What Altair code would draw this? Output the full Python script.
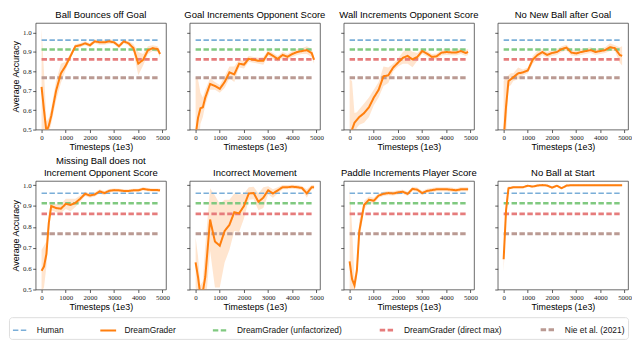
import altair as alt
import pandas as pd

# ---------------- data ----------------
X = [0, 100, 200, 300, 400, 600, 800, 1000, 1200, 1400, 1600, 1800, 2000, 2200,
     2400, 2600, 2800, 3000, 3200, 3400, 3600, 3800, 4000, 4200, 4400, 4600, 4800, 4900]

PANELS = [
    "Ball Bounces off Goal",
    "Goal Increments Opponent Score",
    "Wall Increments Opponent Score",
    "No New Ball after Goal",
    "Missing Ball does not Increment Opponent Score",
    "Incorrect Movement",
    "Paddle Increments Player Score",
    "No Ball at Start",
]
TITLES = [
    "Ball Bounces off Goal",
    "Goal Increments Opponent Score",
    "Wall Increments Opponent Score",
    "No New Ball after Goal",
    ["Missing Ball does not", "Increment Opponent Score"],
    "Incorrect Movement",
    "Paddle Increments Player Score",
    "No Ball at Start",
]

ACC_1 = [0.72, 0.60, 0.49, 0.52, 0.57, 0.70, 0.79, 0.83, 0.88, 0.93, 0.935, 0.945, 0.935, 0.955,
         0.95, 0.95, 0.955, 0.95, 0.93, 0.955, 0.945, 0.92, 0.84, 0.86, 0.91, 0.92, 0.915, 0.89]
SPR_1 = [0.30, 0.20, 0.05, 0.04, 0.04, 0.05, 0.05, 0.02, 0.015, 0.012, 0.01, 0.01, 0.01, 0.01,
         0.012, 0.012, 0.012, 0.01, 0.012, 0.01, 0.012, 0.02, 0.06, 0.03, 0.02, 0.015, 0.015, 0.02]

ACC_2 = [0.47, 0.56, 0.61, 0.615, 0.665, 0.735, 0.725, 0.71, 0.745, 0.795, 0.785, 0.84, 0.835, 0.865,
         0.86, 0.855, 0.855, 0.895, 0.88, 0.865, 0.885, 0.875, 0.89, 0.90, 0.905, 0.91, 0.895, 0.86]
SPR_2 = [0.30, 0.20, 0.08, 0.05, 0.04, 0.03, 0.02, 0.02, 0.03, 0.03, 0.04, 0.02, 0.02, 0.015,
         0.015, 0.015, 0.02, 0.015, 0.015, 0.015, 0.015, 0.015, 0.015, 0.015, 0.015, 0.02, 0.02, 0.02]

ACC_3 = [0.46, 0.50, 0.535, 0.55, 0.565, 0.585, 0.615, 0.665, 0.705, 0.775, 0.78, 0.82, 0.845, 0.87,
         0.88, 0.862, 0.875, 0.905, 0.892, 0.875, 0.878, 0.897, 0.90, 0.898, 0.897, 0.905, 0.895, 0.90]
SPR_3 = [0.30, 0.25, 0.05, 0.04, 0.04, 0.05, 0.05, 0.04, 0.04, 0.05, 0.04, 0.02, 0.02, 0.03,
         0.04, 0.04, 0.02, 0.015, 0.015, 0.015, 0.015, 0.015, 0.015, 0.015, 0.015, 0.015, 0.015, 0.015]

ACC_4 = [0.45, 0.62, 0.75, 0.76, 0.77, 0.79, 0.795, 0.805, 0.86, 0.885, 0.90, 0.885, 0.895, 0.90,
         0.915, 0.923, 0.897, 0.893, 0.90, 0.905, 0.91, 0.90, 0.905, 0.91, 0.925, 0.92, 0.885, 0.88]
SPR_4 = [0.30, 0.15, 0.03, 0.03, 0.02, 0.03, 0.015, 0.015, 0.02, 0.02, 0.015, 0.015, 0.015, 0.015,
         0.015, 0.015, 0.015, 0.015, 0.015, 0.015, 0.015, 0.015, 0.015, 0.015, 0.02, 0.015, 0.04, 0.05]

ACC_5 = [0.59, 0.61, 0.67, 0.82, 0.90, 0.89, 0.887, 0.91, 0.905, 0.915, 0.935, 0.958, 0.95, 0.955,
         0.97, 0.962, 0.973, 0.976, 0.975, 0.972, 0.972, 0.975, 0.975, 0.982, 0.978, 0.976, 0.976, 0.975]
SPR_5 = [0.10, 0.10, 0.06, 0.05, 0.02, 0.02, 0.02, 0.025, 0.03, 0.02, 0.015, 0.01, 0.01, 0.01,
         0.01, 0.01, 0.008, 0.008, 0.008, 0.008, 0.008, 0.008, 0.008, 0.008, 0.008, 0.008, 0.008, 0.008]

ACC_6 = [0.63, 0.56, 0.47, 0.49, 0.56, 0.835, 0.73, 0.71, 0.78, 0.81, 0.87, 0.865, 0.90, 0.96,
         0.962, 0.92, 0.94, 0.975, 0.96, 0.975, 0.99, 0.99, 0.992, 0.99, 0.986, 0.96, 0.99, 0.99]
SPR_6 = [0.12, 0.10, 0.05, 0.05, 0.15, 0.15, 0.22, 0.20, 0.15, 0.12, 0.09, 0.09, 0.06, 0.03,
         0.03, 0.04, 0.05, 0.02, 0.02, 0.015, 0.01, 0.01, 0.01, 0.01, 0.01, 0.02, 0.01, 0.01]

ACC_7 = [0.635, 0.55, 0.52, 0.59, 0.78, 0.905, 0.93, 0.925, 0.95, 0.958, 0.962, 0.96, 0.965, 0.968,
         0.958, 0.982, 0.978, 0.962, 0.972, 0.976, 0.98, 0.98, 0.98, 0.978, 0.975, 0.98, 0.98, 0.98]
SPR_7 = [0.36, 0.25, 0.03, 0.04, 0.05, 0.02, 0.015, 0.015, 0.01, 0.01, 0.01, 0.01, 0.01, 0.01,
         0.01, 0.01, 0.01, 0.01, 0.01, 0.01, 0.01, 0.01, 0.01, 0.01, 0.01, 0.01, 0.01, 0.01]

ACC_8 = [0.645, 0.88, 0.985, 0.987, 0.99, 0.99, 0.99, 0.997, 0.993, 0.998, 1.0, 0.998, 0.988, 0.997,
         0.985, 0.998, 0.999, 0.999, 0.999, 0.999, 0.999, 0.999, 0.999, 0.999, 0.999, 0.999, 0.999, 0.999]
SPR_8 = [0.06, 0.05, 0.01, 0.005, 0.005, 0.005, 0.005, 0.005, 0.005, 0.005, 0.005, 0.005, 0.005, 0.005,
         0.005, 0.005, 0.005, 0.005, 0.005, 0.005, 0.005, 0.005, 0.005, 0.005, 0.005, 0.005, 0.005, 0.005]

ACC = [ACC_1, ACC_2, ACC_3, ACC_4, ACC_5, ACC_6, ACC_7, ACC_8]
SPR = [SPR_1, SPR_2, SPR_3, SPR_4, SPR_5, SPR_6, SPR_7, SPR_8]

SERIES = ["Human", "DreamGrader", "DreamGrader (unfactorized)",
          "DreamGrader (direct max)", "Nie et al. (2021)"]
REF_NAMES = ["Human", "DreamGrader (unfactorized)", "DreamGrader (direct max)", "Nie et al. (2021)"]
REF_VALUES = [0.961, 0.913, 0.862, 0.767]
REF_X = [0, 4800]

XTICKS = [0, 1000, 2000, 3000, 4000, 5000]
YTICKS = [0.5, 0.6, 0.7, 0.8, 0.9, 1.0]

# ---------------- styles ----------------
COLORS = ["#7aaed8", "#ff7f0e", "#80c980", "#e67c7c", "#ba9a93"]
DASHES = [[5.5, 2.5], [1, 0], [5.5, 2.5], [5.5, 2.5], [5.5, 2.5]]
WIDTHS = [1.7, 3.0, 1.7, 1.7, 1.7]
ORANGE = "#ff7f0e"
W = 132
ROW_TOP = [1.05, 1.02]
ROW_H = [108, 110]

main_rows = []
for p, name in enumerate(PANELS):
    for x, y, s in zip(X, ACC[p], SPR[p]):
        main_rows.append({"panel": name, "series": "DreamGrader", "x": x, "y": y,
                          "lo": y - s, "hi": y + s})
main_df = pd.DataFrame(main_rows)

ref_df = pd.DataFrame([{"series": n, "x": x, "y": v}
                       for n, v in zip(REF_NAMES, REF_VALUES) for x in REF_X])

legend = alt.Legend(orient="none", legendX=-27, legendY=298, direction="horizontal",
                    title=None, symbolType="stroke", symbolSize=256, labelOffset=7,
                    columnPadding=32, padding=3, strokeColor="#dddddd", cornerRadius=3,
                    fillColor="white", labelFont="Liberation Sans", labelFontSize=8.5,
                    labelColor="#111")
color_enc = alt.Color("series:N", scale=alt.Scale(domain=SERIES, range=COLORS), legend=legend)
dash_enc = alt.StrokeDash("series:N", scale=alt.Scale(domain=SERIES, range=DASHES), legend=legend)
width_enc = alt.StrokeWidth("series:N", scale=alt.Scale(domain=SERIES, range=WIDTHS), legend=legend)


def panel(i):
    row, col = divmod(i, 4)
    name = PANELS[i]
    yscale = alt.Scale(domain=[0.5, ROW_TOP[row]], nice=False, zero=False)
    if col == 0:
        yaxis = alt.Axis(values=YTICKS, format=".1f", title="Average Accuracy")
    else:
        yaxis = alt.Axis(values=YTICKS, format=".1f", labels=False, title=None)
    xenc = alt.X("x:Q", scale=alt.Scale(domain=[-245, 5145], nice=False, zero=False),
                 axis=alt.Axis(values=XTICKS, format="d", title="Timesteps (1e3)"))
    band = alt.Chart(main_df).transform_filter(alt.datum.panel == name).mark_area(
        clip=True, color=ORANGE, opacity=0.2).encode(
        x=xenc, y=alt.Y("lo:Q", scale=yscale, axis=yaxis), y2="hi:Q")
    refs = alt.Chart(ref_df).mark_line(clip=True).encode(
        x=xenc, y=alt.Y("y:Q", scale=yscale, axis=yaxis),
        color=color_enc, strokeDash=dash_enc, strokeWidth=width_enc)
    main = alt.Chart(main_df).transform_filter(alt.datum.panel == name).mark_line(clip=True).encode(
        x=xenc, y=alt.Y("y:Q", scale=yscale, axis=yaxis),
        color=color_enc, strokeDash=dash_enc, strokeWidth=width_enc)
    return alt.layer(band, refs, main).properties(
        width=W, height=ROW_H[row], title=alt.TitleParams(text=TITLES[i]))


row1 = alt.hconcat(*[panel(i) for i in range(4)], spacing=24, bounds="flush")
row2 = alt.hconcat(*[panel(i) for i in range(4, 8)], spacing=24, bounds="flush")

chart = alt.vconcat(row1, row2, spacing=3).properties(
    padding={"left": 0, "top": 0, "right": 0, "bottom": 0}
).configure_view(
    stroke="#444444", strokeWidth=0.8
).configure_axis(
    grid=False, domain=False, ticks=True, tickSize=3, tickColor="#333333", tickWidth=0.8,
    labelFont="Liberation Serif", labelFontSize=7, labelColor="#222222", labelPadding=1.5,
    titleFont="Liberation Sans", titleFontSize=9, titleFontWeight="normal",
    titleColor="#000000", titlePadding=2
).configure_title(
    font="Liberation Sans", fontSize=9.6, fontWeight="normal", offset=3,
    lineHeight=12.5, color="#000000"
)

chart.save("out.html", embed_options={"renderer": "svg", "actions": False})
